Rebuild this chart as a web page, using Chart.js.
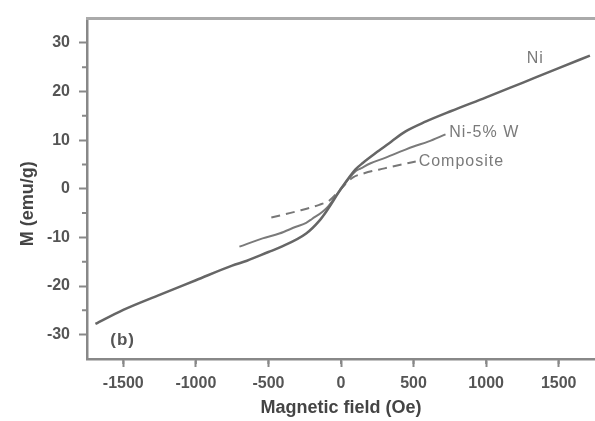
<!DOCTYPE html>
<html>
<head>
<meta charset="utf-8">
<script src="https://cdn.jsdelivr.net/npm/chart.js@4"></script>
<style>
  html, body { margin: 0; padding: 0; background: #fff; }
  canvas { display: block; }
</style>
</head>
<body>
<canvas id="chart" width="595" height="421"></canvas>
<script>
// values: field in Oe, magnetisation in emu/g
const fieldNi = [-1692, -1500, -1250, -1000, -750, -648, -500, -425, -240, -150, -100, 0, 100, 150, 260, 350, 445, 582, 760, 1000, 1250, 1500, 1715];
const momentNi = [-27.8, -24.9, -21.8, -18.8, -15.8, -14.8, -13.0, -12.1, -9.2, -6.6, -4.6, 0, 4.0, 5.3, 7.8, 9.8, 11.8, 13.8, 16.0, 18.8, 21.8, 24.8, 27.4];

const fieldNiW = [-700, -540, -425, -310, -240, -200, -100, 0, 100, 137, 200, 308, 431, 500, 600, 720];
const momentNiW = [-11.9, -10.2, -9.2, -7.8, -7.0, -6.2, -4.0, 0, 3.6, 4.2, 5.2, 6.4, 7.9, 8.7, 9.7, 11.2];

const fieldComposite = [-480, -300, -150, -80, 0, 80, 160, 300, 420, 515];
const momentComposite = [-5.9, -4.6, -3.3, -2.4, 0, 2.3, 3.2, 4.2, 5.0, 5.6];

const xTicksMajor = [-1500, -1000, -500, 0, 500, 1000, 1500];
const yTicksMajor = [-30, -20, -10, 0, 10, 20, 30];

const toPoints = (xs, ys) => xs.map((x, i) => ({ x: x, y: ys[i] }));

const FONT = "'Liberation Sans', Arial, sans-serif";

// short minor ticks, long major ticks drawn by chart.js itself
const minorTicks = {
  id: 'minorTicks',
  afterDraw(chart) {
    const ctx = chart.ctx;
    const xs = chart.scales.x, ys = chart.scales.y;
    ctx.save();
    ctx.strokeStyle = '#888';
    ctx.lineWidth = 2;
    ctx.beginPath();
    for (let v = xs.min + 250; v < xs.max; v += 500) {
      const px = xs.getPixelForValue(v);
      ctx.moveTo(px, xs.top);
      ctx.lineTo(px, xs.top + 5);
    }
    for (let v = ys.min + 10; v < ys.max; v += 10) {
      const py = ys.getPixelForValue(v);
      ctx.moveTo(ys.right, py);
      ctx.lineTo(ys.right - 5, py);
    }
    ctx.stroke();
    ctx.restore();
  }
};

// top frame line and curve labels
const decorations = {
  id: 'decorations',
  afterDraw(chart) {
    const ctx = chart.ctx;
    const area = chart.chartArea;
    const xs = chart.scales.x, ys = chart.scales.y;
    ctx.save();
    ctx.strokeStyle = '#aaa';
    ctx.lineWidth = 3;
    ctx.beginPath();
    ctx.moveTo(area.left - 1, area.top);
    ctx.lineTo(chart.width, area.top);
    ctx.stroke();

    ctx.textBaseline = 'middle';
    ctx.textAlign = 'left';
    ctx.fillStyle = '#7a7a7a';
    ctx.font = '16px ' + FONT;
    ctx.letterSpacing = '1px';
    ctx.fillText('Ni', xs.getPixelForValue(1280), ys.getPixelForValue(26.8));
    ctx.fillText('Ni-5% W', xs.getPixelForValue(745), ys.getPixelForValue(11.6));
    ctx.fillText('Composite', xs.getPixelForValue(535), ys.getPixelForValue(5.6));
    ctx.fillStyle = '#555';
    ctx.font = 'bold 17px ' + FONT;
    ctx.fillText('(b)', xs.getPixelForValue(-1590), ys.getPixelForValue(-31.2));
    ctx.restore();
  }
};

new Chart(document.getElementById('chart'), {
  type: 'scatter',
  data: {
    datasets: [
      {
        label: 'Ni',
        data: toPoints(fieldNi, momentNi),
        showLine: true,
        borderColor: '#666',
        borderWidth: 2.5,
        pointRadius: 0,
        cubicInterpolationMode: 'monotone'
      },
      {
        label: 'Ni-5% W',
        data: toPoints(fieldNiW, momentNiW),
        showLine: true,
        borderColor: '#7a7a7a',
        borderWidth: 2,
        pointRadius: 0,
        cubicInterpolationMode: 'monotone'
      },
      {
        label: 'Composite',
        data: toPoints(fieldComposite, momentComposite),
        showLine: true,
        borderColor: '#777',
        borderWidth: 2,
        borderDash: [9, 6],
        pointRadius: 0,
        cubicInterpolationMode: 'monotone'
      }
    ]
  },
  options: {
    responsive: false,
    animation: false,
    devicePixelRatio: 1,
    layout: { padding: { top: 11, right: 0, left: 0, bottom: 0 } },
    plugins: {
      legend: { display: false },
      tooltip: { enabled: false }
    },
    scales: {
      x: {
        type: 'linear',
        position: 'bottom',
        min: -1750,
        max: 1750,
        afterBuildTicks: (scale) => {
          scale.ticks = xTicksMajor.map(v => ({ value: v }));
        },
        afterFit: (scale) => { scale.height = 62; },
        ticks: {
          autoSkip: false,
          maxRotation: 0,
          padding: 7,
          color: '#555',
          font: { family: FONT, size: 16, weight: 'bold' },
          callback: (v) => String(v)
        },
        grid: {
          drawOnChartArea: false,
          drawTicks: true,
          tickLength: 8,
          tickWidth: 2,
          tickColor: '#888'
        },
        border: { color: '#888', width: 2.5 },
        title: {
          display: true,
          text: 'Magnetic field (Oe)',
          color: '#444',
          font: { family: FONT, size: 18, weight: 'bold' },
          padding: { top: 0, bottom: 2 }
        }
      },
      y: {
        type: 'linear',
        min: -35,
        max: 35,
        afterBuildTicks: (scale) => {
          scale.ticks = yTicksMajor.map(v => ({ value: v }));
        },
        afterFit: (scale) => { scale.width = 87; },
        ticks: {
          padding: 9,
          color: '#555',
          font: { family: FONT, size: 16, weight: 'bold' },
          callback: (v) => String(v)
        },
        grid: {
          drawOnChartArea: false,
          drawTicks: true,
          tickLength: 8,
          tickWidth: 2,
          tickColor: '#888'
        },
        border: { color: '#888', width: 2.5 },
        title: {
          display: true,
          text: 'M (emu/g)      ',
          color: '#444',
          font: { family: FONT, size: 18, weight: 'bold' },
          padding: { top: 17, bottom: 0 }
        }
      }
    }
  },
  plugins: [minorTicks, decorations]
});
</script>
</body>
</html>
